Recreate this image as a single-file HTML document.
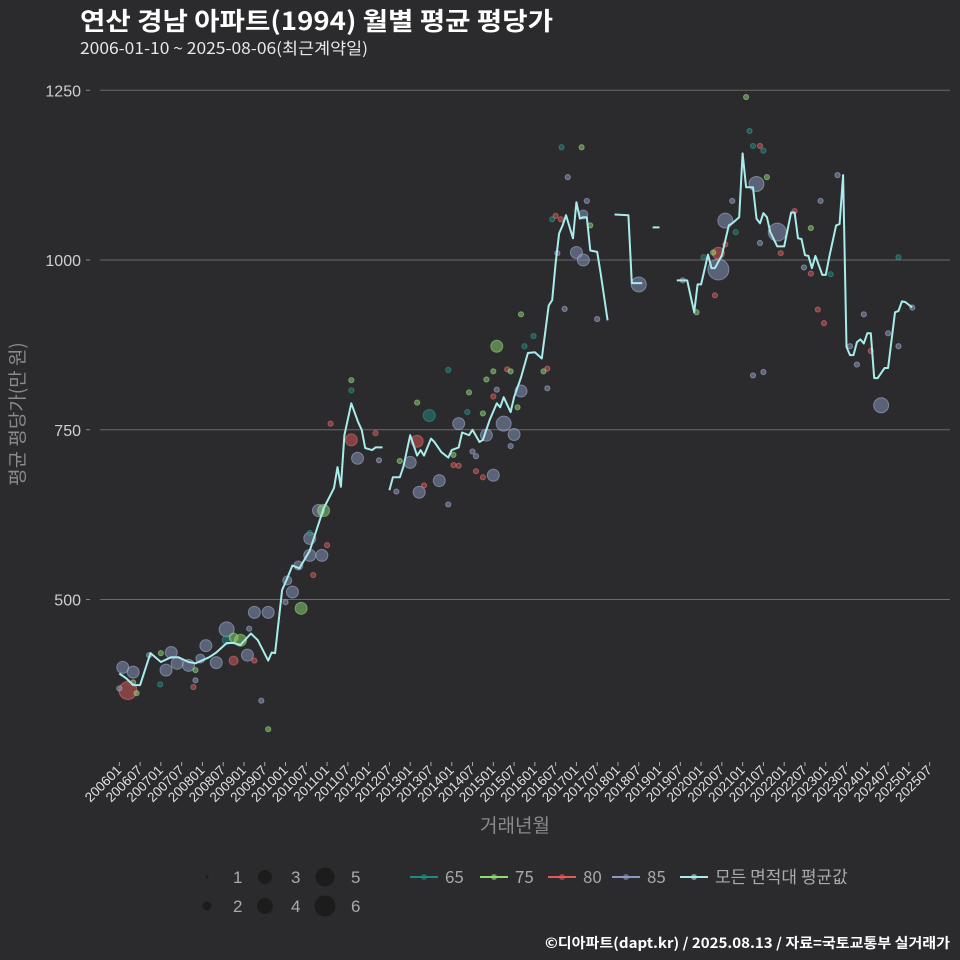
<!DOCTYPE html>
<html><head><meta charset="utf-8">
<style>
html,body{margin:0;padding:0;background:#2b2b2d;}
svg{display:block;font-family:"Liberation Sans","Noto Sans CJK KR",sans-serif;}
</style></head>
<body>
<svg id="chart" width="960" height="960" viewBox="0 0 960 960" xmlns="http://www.w3.org/2000/svg">
<rect x="0" y="0" width="960" height="960" fill="#2b2b2d"/>
<text x="80" y="30" fill="#ffffff" font-size="25" font-weight="bold" font-family="'Noto Sans CJK KR',sans-serif" textLength="473" lengthAdjust="spacingAndGlyphs">연산 경남 아파트(1994) 월별 평균 평당가</text>
<text x="80" y="54" fill="#e8e8e8" font-size="16" font-family="'Noto Sans CJK KR',sans-serif" textLength="288" lengthAdjust="spacingAndGlyphs">2006-01-10 ~ 2025-08-06(최근계약일)</text>
<g id="grid"></g>
<g id="yticks"></g>
<g id="xticks"></g>
<g id="dots"></g>
<g id="line"></g>
<text transform="translate(24,414) rotate(-90)" text-anchor="middle" fill="#8a8a8a" font-size="19" font-family="'Noto Sans CJK KR',sans-serif">평균 평당가(만 원)</text>
<text x="515" y="832" text-anchor="middle" fill="#8a8a8a" font-size="19" font-family="'Noto Sans CJK KR',sans-serif">거래년월</text>
<g id="legend"></g>
<text x="950" y="948" text-anchor="end" fill="#ffffff" font-size="14" font-weight="bold" font-family="'Noto Sans CJK KR',sans-serif" textLength="405" lengthAdjust="spacingAndGlyphs">©디아파트(dapt.kr) / 2025.08.13 / 자료=국토교통부 실거래가</text>
</svg>
<script>
// ---- data ----
const yTicks = [500, 750, 1000, 1250];
const xTickLabels = ["200601","200607","200701","200707","200801","200807","200901","200907","201001","201007","201101","201107","201201","201207","201301","201307","201401","201407","201501","201507","201601","201607","201701","201707","201801","201807","201901","201907","202001","202007","202101","202107","202201","202207","202301","202307","202401","202407","202501","202507"];
// months since 2006-01 (null = gap)
const lineMonth = [0,2,4,6,9,12,15,17,20,22,26,28,31,33,35,38,40,43,44,45,47,48,50,52,55,59,62,63,64,65,67,69,70,71,73,74,76,null,
78,79,81,82,84,86,87,88,90,91,93,95,96,98,99,101,102,104,105,107,109,110,111,113,114,116,118,120,122,124,125,126,127,128,129,131,132,133,134,135,136,138,139,141,null,
143,147,148,151,null,154,156,null,
161,164,166,167,168,170,171,172,174,176,177,179,180,181,183,184,185,186,187,188,190,192,194,195,196,197,198,199,200,201,203,204,205,207,208,209,210,211,212,213,214,215,216,217,218,219,221,222,224,225,226,227,229];
const lineValue = [391,384,374,374,421,408,415,415,408,406,415,422,436,436,433,450,440,410,422,421,514,525,550,546,572,634,664,695,666,742,789,761,750,723,720,724,724,null,
661,680,680,695,742,712,720,712,737,732,717,709,720,724,746,742,750,732,735,765,789,783,798,776,798,827,863,864,855,933,941,995,1039,1051,1066,1032,1085,1061,1063,1063,1014,1012,980,911,null,
1067,1066,966,966,null,1048,1048,null,
970,970,923,964,964,1008,988,988,1007,1051,1054,1063,1157,1107,1107,1061,1054,1069,1063,1041,1020,1020,1070,1070,1032,1031,1007,1006,988,1006,978,978,1004,1051,1053,1125,872,860,860,879,883,877,892,892,826,826,841,841,923,925,939,938,930];
// scatter: month, value, deal count, area type
const dotMonth = [1,4,2.5,4,0,5,8.6,12,13.5,11.8,15,16.7,20,22,22,21.4,23.4,25,28,31,31,33,33,35,37,37.5,39,39,43,41,43,48.5,48,50,52.5,51.7,55,55,58.5,57.5,59,55,56,60,67,68.8,61,74,75,67,67,
89.5,86,84,86.6,92.4,98,108,106,111,114,116,109,132,134,134,150,
116,119.6,117,123.6,122.5,123.6,112,113,108,106,109,108,101,95,86,81,80,88,95,96.5,98,96.5,103,105,103,102,113,115,105,100.5,125,126,127.5,127.7,133.5,129.5,135,136,126.5,128.6,138,
181,182,183,185,186,187,184,177,175,178,175,173,171.5,168.7,173,172,166.7,162.7,185,190,191,195,199.7,202.5,207.4,197.7,199.7,205.4,201.7,203.5,183,186,211,213,215,217,220,222,225,225,229];
const dotValue = [400,393,366,378,369,362,418,421,396,375,422,406,403,381,396,371,413,432,407,456,440,444,410,440,418,457,410,481,481,351,309,528,496,511,487,550,590,565,565,631,631,598,536,580,735,708,759,745,705,823,808,
771,733,702,658,675,759,683,742,759,743,807,873,1011,1000,1067,964,
920,888,873,840,836,811,839,836,836,824,809,799,805,838,790,704,659,668,640,698,697,713,689,680,711,718,726,783,774,776,1060,1065,1060,1166,1166,1122,1087,1051,1010,928,913,
1240,1190,1168,1168,1161,1122,1112,1087,1058,1041,1023,1010,1011,1004,986,948,923,970,1025,1041,1010,1072,1047,1087,1125,989,980,979,927,907,830,835,873,846,920,866,786,892,873,1004,930];
const dotCount = [3,3,5,1,1,1,1,1,3,1,3,3,3,1,1,1,2,3,3,4,2,2,2,3,3,1,1,3,3,1,1,2,1,3,3,2,3,3,3,3,3,1,1,1,3,3,1,1,1,1,1,
3,3,3,3,3,3,3,3,4,3,3,3,3,3,2,4,
1,1,1,1,1,1,1,1,1,1,1,1,1,1,1,1,1,1,1,1,1,1,1,1,1,1,1,1,1,1,1,1,1,1,1,1,1,1,1,1,1,
1,1,1,1,1,1,4,1,4,1,1,3,1,1,6,1,1,1,1,5,1,1,1,1,1,1,1,1,1,1,1,1,1,1,1,1,4,1,1,1,1];
const dotType = [85,85,80,75,85,75,85,75,85,65,85,85,85,85,75,80,85,85,85,85,65,75,80,75,85,85,80,85,85,85,75,85,85,85,75,85,85,85,85,85,75,65,80,80,80,85,80,80,85,75,65,
65,80,85,85,85,85,85,85,85,85,85,75,85,85,85,85,
75,65,65,80,75,85,80,75,75,75,85,80,75,65,75,75,85,80,85,80,80,75,80,80,85,85,85,75,75,65,65,80,80,65,75,85,85,75,85,85,85,
75,65,65,80,65,75,85,85,85,65,80,80,75,65,85,80,75,85,85,85,80,80,75,85,85,85,80,65,80,80,85,85,85,85,85,80,85,85,85,65,85];
const sizeLabels = [1,2,3,4,5,6];
const typeLabels = ["65","75","80","85","모든 면적대 평균값"];

// ---- scales ----
const NS = "http://www.w3.org/2000/svg";
const xOf = m => 119.3 + m * 3.463;
const yOf = v => 260 - (v - 1000) * 0.679;
const rOf = c => [0, 2.6, 4.5, 6, 7.5, 9, 10.5][c];
const colors = {65:"#1f8a80",75:"#8ddc72",80:"#e05a5a",85:"#8a9ac4"};
const strokes = {65:"#3aa89c",75:"#a8e890",80:"#f07a7a",85:"#b4c0e0"};
function mk(tag, attrs, parent){const e=document.createElementNS(NS,tag);for(const k in attrs)e.setAttribute(k,attrs[k]);parent.appendChild(e);return e;}

const grid = document.getElementById('grid');
const yt = document.getElementById('yticks');
yTicks.forEach(v=>{
  const l = mk('line',{x1:100,x2:950,y1:yOf(v),y2:yOf(v),stroke:'#6a6a6a','stroke-width':1},grid);
  
  
  const t = mk('text',{x:81,y:yOf(v)+6,'text-anchor':'end',fill:'#cfcfcf','font-size':16},yt);
  t.textContent = v;
  
  
  const tk = mk('line',{x1:86,x2:90,y1:yOf(v),y2:yOf(v),stroke:'#888'},yt);
  
  
});
const xt = document.getElementById('xticks');
xTickLabels.forEach((lab,i)=>{
  const x = xOf(i*6);
  const tk = mk('line',{x1:x,x2:x,y1:762,y2:766,stroke:'#aaa'},xt);
  
  
  const t = mk('text',{transform:`translate(${x+3},771) rotate(-45)`,'text-anchor':'end',fill:'#e0e0e0','font-size':13.5},xt);
  t.textContent = lab;
  
  
});

const dg = document.getElementById('dots');
dotMonth.forEach((m,i)=>{
  const c = mk('circle',{cx:xOf(m),cy:yOf(dotValue[i]),r:rOf(dotCount[i]),fill:colors[dotType[i]],'fill-opacity':0.5,stroke:strokes[dotType[i]],'stroke-opacity':0.5,'stroke-width':1},dg);
  
  
});

const lg = document.getElementById('line');
let seg = [];
function flush(){ if(seg.length>1){const p=mk('polyline',{points:seg.join(' '),fill:'none',stroke:'#a8ecec','stroke-width':2,'stroke-linejoin':'round'},lg);} seg=[]; }
lineMonth.forEach((m,i)=>{ if(m===null||lineValue[i]===null){flush();} else seg.push(xOf(m).toFixed(1)+','+yOf(lineValue[i]).toFixed(1)); });
flush();

// legend
const leg = document.getElementById('legend');
const sizePos = [[207,877],[207,906],[265,877],[265,906],[325,877],[325,906]];
sizeLabels.forEach((s,i)=>{
  const [x,y] = sizePos[i];
  const c = mk('circle',{cx:x,cy:y,r:[1.5,4.5,7,8,9.5,10.5][i],fill:'#1c1c1c'},leg);
  
  
  const t = mk('text',{x:x+26,y:y+6,fill:'#aaaaaa','font-size':17},leg);
  t.textContent = s;
  
  
});
const typePos = [410,480,548,612,680];
const typeCol = ["#1f8a80","#8ddc72","#e05a5a","#8a9ac4","#a8ecec"];
typeLabels.forEach((lab,i)=>{
  const x = typePos[i];
  const g = mk('g',{},leg);
  
  
  mk('line',{x1:x,x2:x+28,y1:877,y2:877,stroke:typeCol[i],'stroke-width':2},g);
  mk('circle',{cx:x+14,cy:877,r:3,fill:typeCol[i],'fill-opacity':0.6},g);
  const t = mk('text',{x:x+35,y:883,fill:'#aaaaaa','font-size':17,'font-family':"'Noto Sans CJK KR',sans-serif"},g);
  t.textContent = lab;
});
</script>
</body></html>
